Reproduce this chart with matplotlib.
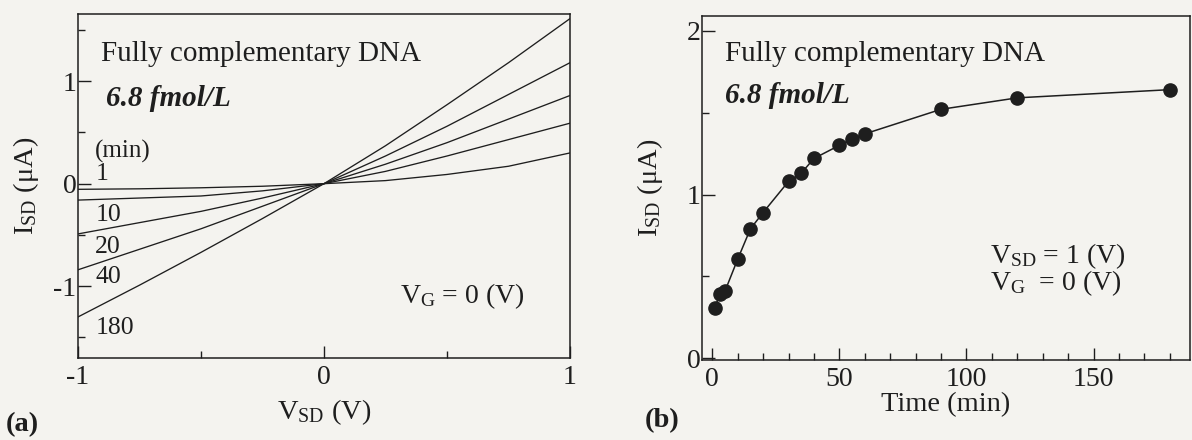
import numpy as np
import matplotlib
matplotlib.use('Agg')
import matplotlib.pyplot as plt
from matplotlib.ticker import MultipleLocator

plt.rcParams['font.family'] = ['Liberation Serif', 'DejaVu Serif']
plt.rcParams['mathtext.fontset'] = 'custom'
plt.rcParams['mathtext.rm'] = 'Liberation Serif'
plt.rcParams['mathtext.it'] = 'Liberation Serif:italic'
plt.rcParams['mathtext.bf'] = 'Liberation Serif:bold'
plt.rcParams['axes.unicode_minus'] = False

# (a) I-V curves
v_sd = [-1.0, -0.75, -0.5, -0.25, 0.0, 0.25, 0.5, 0.75, 1.0]
iv_1 = [-0.055, -0.05, -0.04, -0.025, 0.0, 0.03, 0.09, 0.17, 0.30]
iv_10 = [-0.16, -0.14, -0.12, -0.07, 0.0, 0.12, 0.27, 0.43, 0.59]
iv_20 = [-0.49, -0.38, -0.27, -0.14, 0.0, 0.19, 0.40, 0.63, 0.86]
iv_40 = [-0.84, -0.64, -0.44, -0.22, 0.0, 0.27, 0.56, 0.87, 1.18]
iv_180 = [-1.30, -0.99, -0.67, -0.34, 0.0, 0.37, 0.77, 1.18, 1.61]
curve_labels = ['1', '10', '20', '40', '180']

# (b) current vs time at V_SD = 1 V
time_min = [1, 3, 5, 10, 15, 20, 30, 35, 40, 50, 55, 60, 90, 120, 180]
i_sd = [0.31, 0.39, 0.41, 0.605, 0.79, 0.89, 1.08, 1.13, 1.22,
        1.30, 1.34, 1.37, 1.52, 1.59, 1.64]

bg = '#f4f3ef'
ink = '#1e1e1e'
fs_tick = 20
fs_lab = 20.5
fs_txt = 21

fig = plt.figure(figsize=(11.92, 4.4), dpi=100)
fig.patch.set_facecolor(bg)

ax1 = fig.add_axes([0.0654, 0.1864, 0.4128, 0.7818])
ax2 = fig.add_axes([0.589, 0.1818, 0.4094, 0.782])

for ax in (ax1, ax2):
    ax.set_facecolor(bg)
    for s in ('top', 'right', 'left', 'bottom'):
        ax.spines[s].set_linewidth(1.1)
        ax.spines[s].set_color(ink)
    ax.tick_params(which='both', direction='in', top=False, right=False,
                   colors=ink, labelsize=fs_tick, width=1.0)
    ax.tick_params(which='major', length=9)
    ax.tick_params(which='minor', length=5)
    ax.tick_params(axis='x', which='major', pad=5)
    ax.tick_params(axis='y', which='major', pad=1)

# ---- panel (a)
for iv in (iv_1, iv_10, iv_20, iv_40, iv_180):
    ax1.plot(v_sd, iv, color=ink, lw=0.95)

ax1.set_xlim(-1, 1)
ax1.set_ylim(-1.70, 1.655)
ax1.xaxis.set_major_locator(MultipleLocator(1))
ax1.xaxis.set_minor_locator(MultipleLocator(0.5))
ax1.yaxis.set_major_locator(MultipleLocator(1))
ax1.yaxis.set_minor_locator(MultipleLocator(0.5))
ax1.set_xlabel(r'V$_{\mathrm{SD}}$ (V)', fontsize=fs_lab, color=ink, labelpad=5)
ax1.set_ylabel(r'I$_{\mathrm{SD}}$ (μA)', fontsize=fs_lab, color=ink, labelpad=9)

ax1.text(0.046, 0.885, 'Fully complementary DNA', transform=ax1.transAxes,
         fontsize=fs_txt, color=ink, va='center')
ax1.text(0.058, 0.755, '6.8 fmol/L', transform=ax1.transAxes, fontsize=fs_txt,
         color=ink, va='center', style='italic', weight='bold')
ax1.text(0.035, 0.60, '(min)', transform=ax1.transAxes, fontsize=18,
         color=ink, va='center')
label_y = [0.535, 0.416, 0.323, 0.235, 0.087]
for lab, yy in zip(curve_labels, label_y):
    ax1.text(0.035, yy, lab, transform=ax1.transAxes, fontsize=18.5,
             color=ink, va='center')
ax1.text(0.655, 0.18, r'V$_{\mathrm{G}}$ = 0 (V)', transform=ax1.transAxes,
         fontsize=20, color=ink, va='center')

# ---- panel (b)
ax2.plot(time_min, i_sd, color=ink, lw=1.1, marker='o', ms=9.5,
         mfc=ink, mec=ink)
ax2.set_xlim(-4, 188)
ax2.set_ylim(-0.01, 2.09)
ax2.xaxis.set_major_locator(MultipleLocator(50))
ax2.xaxis.set_minor_locator(MultipleLocator(10))
ax2.yaxis.set_major_locator(MultipleLocator(1))
ax2.yaxis.set_minor_locator(MultipleLocator(0.5))
ax2.set_xlabel('Time (min)', fontsize=fs_lab, color=ink, labelpad=0)
ax2.set_ylabel(r'I$_{\mathrm{SD}}$ (μA)', fontsize=fs_lab, color=ink, labelpad=16)

ax2.text(0.046, 0.89, 'Fully complementary DNA', transform=ax2.transAxes,
         fontsize=fs_txt, color=ink, va='center')
ax2.text(0.046, 0.77, '6.8 fmol/L', transform=ax2.transAxes, fontsize=fs_txt,
         color=ink, va='center', style='italic', weight='bold')
ax2.text(0.591, 0.262,
         r'V$_{\mathrm{SD}}$ = 1 (V)' + '\n' + r'V$_{\mathrm{G}}$  = 0 (V)',
         transform=ax2.transAxes, fontsize=20, color=ink, va='center',
         linespacing=0.85)

fig.text(0.005, 0.034, '(a)', fontsize=fs_lab, weight='bold', color=ink, va='center')
fig.text(0.541, 0.045, '(b)', fontsize=fs_lab, weight='bold', color=ink, va='center')

fig.savefig('out.png', dpi=100, facecolor=bg)
